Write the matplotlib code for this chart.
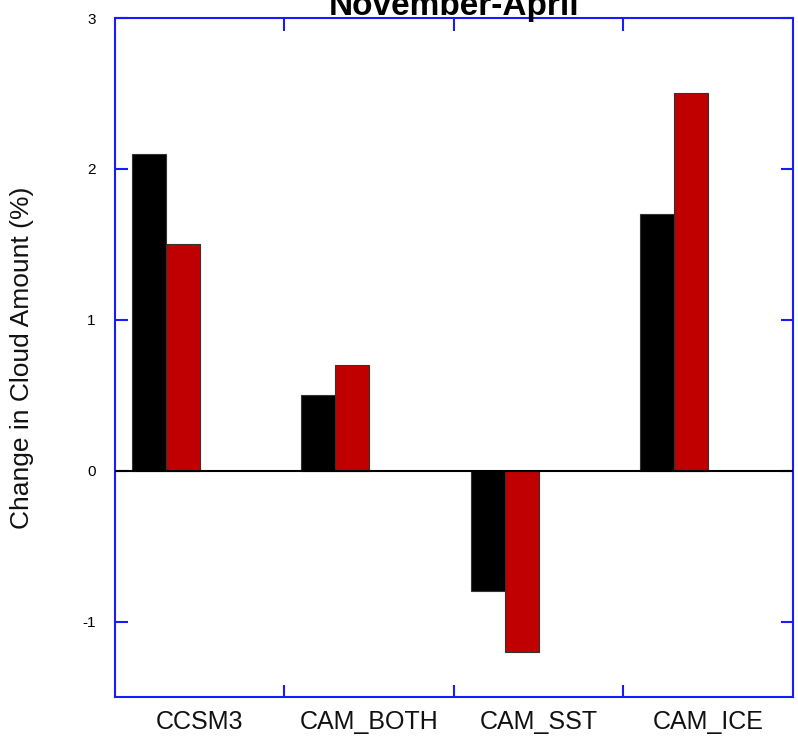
import matplotlib
matplotlib.use("Agg")
import matplotlib.pyplot as plt
import numpy as np

plt.rcParams['font.family'] = ['Liberation Sans', 'DejaVu Sans']

categories = ["CCSM3", "CAM_BOTH", "CAM_SST", "CAM_ICE"]
series_black = [2.1, 0.5, -0.8, 1.7]
series_red = [1.5, 0.7, -1.2, 2.5]
y_ticks = [-1, 0, 1, 2, 3]

fig = plt.figure(figsize=(7.98, 7.42), dpi=100)
ax = fig.add_axes([0.1441, 0.0606, 0.8496, 0.9151])

x = np.arange(len(categories))
w = 0.2
ax.bar(x + 0.1, series_black, width=w, align='edge', color='black',
       edgecolor='#333333', linewidth=0.8, zorder=2)
ax.bar(x + 0.3, series_red, width=w, align='edge', color='#c00000',
       edgecolor='#333333', linewidth=0.8, zorder=2)
ax.axhline(0, color='black', linewidth=1.5, zorder=3)

ax.set_xlim(0, 4)
ax.set_ylim(-1.5, 3)

blue = '#1a1aff'
for s in ax.spines.values():
    s.set_color(blue)
    s.set_linewidth(1.5)

ax.set_xticks([1, 2, 3])
ax.set_xticklabels([])
ax.set_xticks(x + 0.5, minor=True)
ax.set_xticklabels(categories, minor=True, fontsize=18, color='#111111')
ax.tick_params(axis='x', which='major', direction='in', length=9, width=1.5,
               color=blue, top=True, bottom=True)
ax.tick_params(axis='x', which='minor', length=0, pad=9)

ax.set_yticks(y_ticks)
ax.set_yticklabels([str(t) for t in y_ticks])
ax.tick_params(axis='y', direction='in', length=9, width=1.5, color=blue,
               left=True, right=True, labelsize=11, pad=14)

ax.set_ylabel("Change in Cloud Amount (%)", fontsize=19, color='#111111')
ax.yaxis.set_label_coords(-0.12, 0.5)

ax.set_title("November-April", fontsize=24, fontweight='bold', pad=2)

fig.savefig("out.png", dpi=100)
